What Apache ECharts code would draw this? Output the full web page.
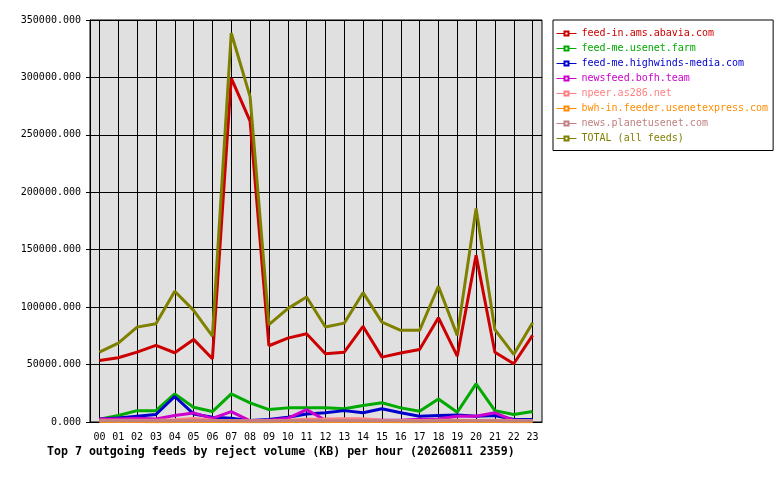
<!DOCTYPE html>
<html>
<head>
<meta charset="utf-8">
<script src="https://cdn.jsdelivr.net/npm/echarts@6/dist/echarts.min.js"></script>
<style>
  html, body { margin: 0; padding: 0; background: #fff; }
  #chart { width: 780px; height: 480px; }
</style>
</head>
<body>
<div id="chart"></div>
<script>
var hours = ['00','01','02','03','04','05','06','07','08','09','10','11','12','13','14','15','16','17','18','19','20','21','22','23'];

var feedNames = ['feed-in.ams.abavia.com','feed-me.usenet.farm','feed-me.highwinds-media.com','newsfeed.bofh.team','npeer.as286.net','bwh-in.feeder.usenetexpress.com','news.planetusenet.com','TOTAL (all feeds)'];
var feedColors = ['#cc0000','#00aa00','#0000cc','#cc00cc','#ff8080','#ff8c00','#c08080','#808000'];

var abavia     = [53600,55900,60800,66700,60300,71900,55000,299400,262000,66400,73000,76900,59400,60800,83200,56500,60000,63200,90800,57300,145200,60800,50700,75400];
var usenetFarm = [2500,5600,9900,9900,24500,12800,9100,24500,16700,10800,12300,12300,12300,11500,14300,16700,12300,9300,20100,8500,33200,9900,6500,9100];
var highwinds  = [2700,3500,5000,6500,22200,7000,4100,3200,1200,2100,4100,7000,8000,9900,8000,11500,8000,5000,5600,6200,5000,5600,2100,2100];
var bofh       = [2700,2700,3200,2700,5600,7900,3200,9100,1000,1500,3200,10800,1500,2000,2000,1500,1500,2300,2700,5000,5000,8000,1500,1000];
var npeer      = [1500,1500,1600,1500,2000,3000,1500,1400,1000,1000,1500,2500,2600,2800,2800,1500,1200,1200,1500,1500,1400,1500,1200,1200];
var bwh        = [400,500,400,300,500,600,400,500,300,300,400,500,400,400,500,400,300,300,400,400,500,400,300,300];
var planet     = [1000,1000,1100,1000,1000,1100,1000,1000,900,900,1000,1100,1000,1000,1000,1000,1000,900,1000,1000,1100,1000,900,1000];
var total      = [60800,68700,82600,85600,113800,97200,74800,338700,283300,84700,98700,108800,82700,86100,112600,87000,79800,79800,118200,75400,186000,80400,58800,86500];

var feedValues = [abavia, usenetFarm, highwinds, bofh, npeer, bwh, planet, total];

var mono = 'DejaVu Sans Mono';
var chart = echarts.init(document.getElementById('chart'));

var option = {
    animation: false,
    backgroundColor: '#fff',
    title: {
        text: 'Top 7 outgoing feeds by reject volume (KB) per hour (20260811 2359)',
        left: 47,
        top: 446,
        padding: 0,
        textStyle: { fontFamily: mono, fontSize: 11.6, fontWeight: 'bold', color: '#000' }
    },
    legend: {
        orient: 'vertical',
        left: 553,
        top: 20,
        padding: [8.5, 5, 7, 3],
        itemWidth: 20,
        itemHeight: 5,
        itemGap: 5,
        borderColor: '#000',
        borderWidth: 1,
        backgroundColor: '#fff',
        selectedMode: false,
        lineStyle: { width: 1 },
        itemStyle: { borderWidth: 1 },
        textStyle: { fontFamily: mono, fontSize: 10, lineHeight: 10 },
        data: feedNames.map(function (n, i) {
            return { name: n, textStyle: { color: feedColors[i] } };
        })
    },
    grid: {
        left: 90,
        right: 238,
        top: 20,
        bottom: 58,
        show: true,
        backgroundColor: '#e0e0e0',
        borderColor: '#000',
        borderWidth: 1
    },
    xAxis: {
        type: 'category',
        data: hours,
        boundaryGap: true,
        axisLine: { lineStyle: { color: '#000', width: 1 } },
        axisTick: { alignWithLabel: true, length: 4, lineStyle: { color: '#000' } },
        axisLabel: { fontFamily: mono, fontSize: 10, color: '#000', margin: 10, interval: 0 },
        splitLine: { show: true, alignWithLabel: true, lineStyle: { color: '#000', width: 1 } }
    },
    yAxis: {
        type: 'value',
        min: 0,
        max: 350000,
        interval: 50000,
        axisLine: { show: true, lineStyle: { color: '#000', width: 1 } },
        axisTick: { show: true, length: 4, lineStyle: { color: '#000' } },
        axisLabel: {
            fontFamily: mono, fontSize: 10, color: '#000', margin: 9,
            formatter: function (v) { return v.toFixed(3); }
        },
        splitLine: { show: true, lineStyle: { color: '#000', width: 1 } }
    },
    series: feedNames.map(function (n, i) {
        return {
            name: n,
            type: 'line',
            data: feedValues[i],
            symbol: 'emptyRect',
            symbolSize: 4,
            showSymbol: false,
            color: feedColors[i],
            lineStyle: { width: 3, color: feedColors[i] },
            itemStyle: { color: feedColors[i] },
            z: 3
        };
    })
};

chart.setOption(option);
</script>
</body>
</html>
